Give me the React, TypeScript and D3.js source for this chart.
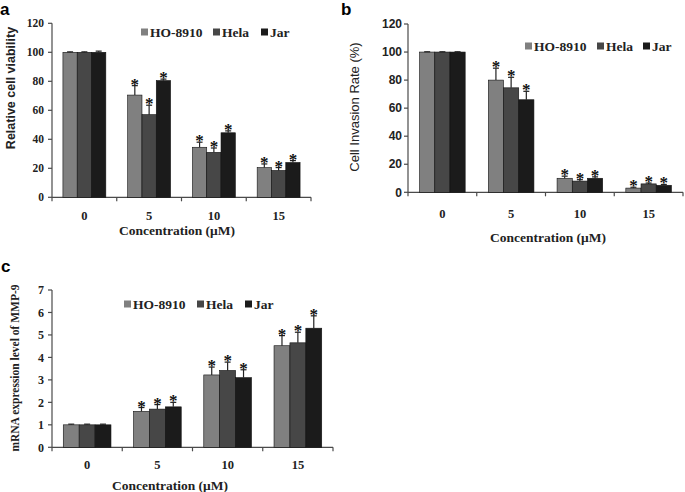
import React from "react";
import * as d3 from "d3";

const categories = ["0", "5", "10", "15"];
const seriesNames = ["HO-8910", "Hela", "Jar"];
const seriesColors = ["#808080", "#474747", "#1b1b1b"];

// Panel a: relative cell viability
const aHO = [100, 70.5, 34.5, 20.5];
const aHela = [100, 57, 31, 18.5];
const aJar = [100, 80.5, 44.5, 24];
const aHOErr = [0.3, 6.5, 3.5, 2.5];
const aHelaErr = [0.3, 6.5, 3, 2];
const aJarErr = [0.8, 1, 1.3, 1.3];
const aTicks = [0, 20, 40, 60, 80, 100, 120];

// Panel b: cell invasion rate
const bHO = [100, 80, 10, 3];
const bHela = [100, 74.5, 8, 6];
const bJar = [100, 66, 10, 5];
const bHOErr = [0.2, 8.5, 1.5, 0.6];
const bHelaErr = [0.2, 7.5, 1, 0.6];
const bJarErr = [0.2, 6, 1, 0.6];
const bTicks = [0, 20, 40, 60, 80, 100, 120];

// Panel c: MMP-9 mRNA expression
const cHO = [1.0, 1.6, 3.22, 4.52];
const cHela = [1.0, 1.7, 3.42, 4.65];
const cJar = [1.0, 1.8, 3.1, 5.3];
const cHOErr = [0.03, 0.17, 0.35, 0.45];
const cHelaErr = [0.03, 0.2, 0.37, 0.47];
const cJarErr = [0.03, 0.2, 0.35, 0.55];
const cTicks = [0, 1, 2, 3, 4, 5, 6, 7];

const SERIF = "'Liberation Serif', 'Times New Roman', serif";
const SANS = "'Liberation Sans', Arial, sans-serif";

type PanelProps = {
  letter: string;
  letterX: number;
  letterY: number;
  left: number;
  right: number;
  top: number;
  bottom: number;
  max: number;
  ticks: number[];
  values: number[][];
  errors: number[][];
  barWidth: number;
  tickFont: string;
  tickSize: number;
  tickLabelX: number;
  yLabel: string;
  yLabelFont: string;
  yLabelWeight: string | number;
  yLabelSize: number;
  yLabelX: number;
  yLabelY: number;
  catY: number;
  xTitleX: number;
  xTitleY: number;
  legendY: number;
  legendX: number[];
};

function Panel(p: PanelProps) {
  const y = d3.scaleLinear().domain([0, p.max]).range([p.bottom, p.top]);
  const x0 = d3.scaleBand<string>().domain(categories).range([p.left, p.right]).padding(0);
  const groupW = p.barWidth * 3;
  const x1 = d3
    .scaleBand<string>()
    .domain(seriesNames)
    .range([(x0.bandwidth() - groupW) / 2, (x0.bandwidth() + groupW) / 2])
    .padding(0);
  const axisColor = "#4a4a4a";
  return (
    <g>
      <text x={p.letterX} y={p.letterY} fontFamily={SANS} fontWeight="bold" fontSize={17} fill="#000">
        {p.letter}
      </text>
      {/* y axis */}
      <line x1={p.left} x2={p.left} y1={p.top} y2={p.bottom} stroke={axisColor} strokeWidth={1.2} />
      {p.ticks.map((t) => (
        <g key={t}>
          <line x1={p.left - 4} x2={p.left} y1={y(t)} y2={y(t)} stroke={axisColor} strokeWidth={1.2} />
          <text
            x={p.tickLabelX}
            y={y(t)}
            dy="0.35em"
            textAnchor="end"
            fontFamily={p.tickFont}
            fontWeight="bold"
            fontSize={p.tickSize}
            fill="#222"
          >
            {t}
          </text>
        </g>
      ))}
      {/* x axis */}
      <line x1={p.left} x2={p.right} y1={p.bottom} y2={p.bottom} stroke={axisColor} strokeWidth={1.2} />
      {categories.map((c) => (
        <line
          key={"t" + c}
          x1={x0(c) as number}
          x2={x0(c) as number}
          y1={p.bottom}
          y2={p.bottom + 4}
          stroke={axisColor}
          strokeWidth={1.2}
        />
      ))}
      <line x1={p.right} x2={p.right} y1={p.bottom} y2={p.bottom + 4} stroke={axisColor} strokeWidth={1.2} />
      {categories.map((c) => (
        <text
          key={"c" + c}
          x={(x0(c) as number) + x0.bandwidth() / 2}
          y={p.catY}
          textAnchor="middle"
          fontFamily={SERIF}
          fontWeight="bold"
          fontSize={12.5}
          fill="#222"
        >
          {c}
        </text>
      ))}
      {/* bars */}
      {categories.map((c, ci) =>
        seriesNames.map((s, si) => {
          const v = p.values[si][ci];
          const e = p.errors[si][ci];
          const bx = (x0(c) as number) + (x1(s) as number);
          const cx = bx + p.barWidth / 2;
          const top = y(v);
          const et = y(v + e);
          return (
            <g key={c + s}>
              <rect
                x={bx}
                y={top}
                width={p.barWidth}
                height={p.bottom - top}
                fill={seriesColors[si]}
                stroke="#111"
                strokeWidth={0.6}
              />
              <line x1={cx} x2={cx} y1={top} y2={et} stroke="#222" strokeWidth={1.2} />
              <line x1={cx - 3} x2={cx + 3} y1={et} y2={et} stroke="#222" strokeWidth={1.2} />
              {ci > 0 && (
                <text
                  x={cx}
                  y={et + 4}
                  textAnchor="middle"
                  fontFamily={SERIF}
                  fontWeight="bold"
                  fontSize={17}
                  fill="#111"
                >
                  *
                </text>
              )}
            </g>
          );
        })
      )}
      {/* y label */}
      <text
        transform={`translate(${p.yLabelX},${p.yLabelY}) rotate(-90)`}
        textAnchor="middle"
        dy="0.35em"
        fontFamily={p.yLabelFont}
        fontWeight={p.yLabelWeight}
        fontSize={p.yLabelSize}
        fill="#222"
      >
        {p.yLabel}
      </text>
      {/* x title */}
      <text
        x={p.xTitleX}
        y={p.xTitleY}
        textAnchor="middle"
        fontFamily={SERIF}
        fontWeight="bold"
        fontSize={13.5}
        fill="#222"
      >
        Concentration (μM)
      </text>
      {/* legend */}
      {seriesNames.map((s, si) => (
        <g key={"l" + s}>
          <rect x={p.legendX[si]} y={p.legendY - 3.5} width={7} height={7} fill={seriesColors[si]} />
          <text
            x={p.legendX[si] + 9}
            y={p.legendY}
            dy="0.35em"
            fontFamily={SERIF}
            fontWeight="bold"
            fontSize={13.5}
            fill="#222"
          >
            {s}
          </text>
        </g>
      ))}
    </g>
  );
}

export default function App() {
  return (
    <svg
      width={685}
      height={492}
      style={{ position: "absolute", left: 0, top: 0, background: "#fff" }}
    >
      <rect width={685} height={492} fill="#fff" />
      <Panel
        letter="a"
        letterX={0}
        letterY={15}
        left={52}
        right={311}
        top={23.3}
        bottom={197.3}
        max={120}
        ticks={aTicks}
        values={[aHO, aHela, aJar]}
        errors={[aHOErr, aHelaErr, aJarErr]}
        barWidth={14.3}
        tickFont={SERIF}
        tickSize={11.5}
        tickLabelX={44}
        yLabel="Relative cell viability"
        yLabelFont={SANS}
        yLabelWeight="bold"
        yLabelSize={12.5}
        yLabelX={11}
        yLabelY={88}
        catY={220}
        xTitleX={177}
        xTitleY={235}
        legendY={32}
        legendX={[141, 213, 261]}
      />
      <Panel
        letter="b"
        letterX={341}
        letterY={15}
        left={408}
        right={683}
        top={24}
        bottom={192.3}
        max={120}
        ticks={bTicks}
        values={[bHO, bHela, bJar]}
        errors={[bHOErr, bHelaErr, bJarErr]}
        barWidth={15.2}
        tickFont={SANS}
        tickSize={12}
        tickLabelX={402}
        yLabel="Cell Invasion Rate (%)"
        yLabelFont={SANS}
        yLabelWeight={500}
        yLabelSize={13}
        yLabelX={354}
        yLabelY={107}
        catY={218}
        xTitleX={548}
        xTitleY={242}
        legendY={46}
        legendX={[525, 597, 643]}
      />
      <Panel
        letter="c"
        letterX={1}
        letterY={272}
        left={52}
        right={333}
        top={290}
        bottom={447.3}
        max={7}
        ticks={cTicks}
        values={[cHO, cHela, cJar]}
        errors={[cHOErr, cHelaErr, cJarErr]}
        barWidth={15.9}
        tickFont={SERIF}
        tickSize={12}
        tickLabelX={44}
        yLabel="mRNA expression level of MMP-9"
        yLabelFont={SERIF}
        yLabelWeight="bold"
        yLabelSize={11.5}
        yLabelX={15}
        yLabelY={368}
        catY={469}
        xTitleX={170}
        xTitleY={490}
        legendY={304}
        legendX={[124, 197, 245]}
      />
    </svg>
  );
}
